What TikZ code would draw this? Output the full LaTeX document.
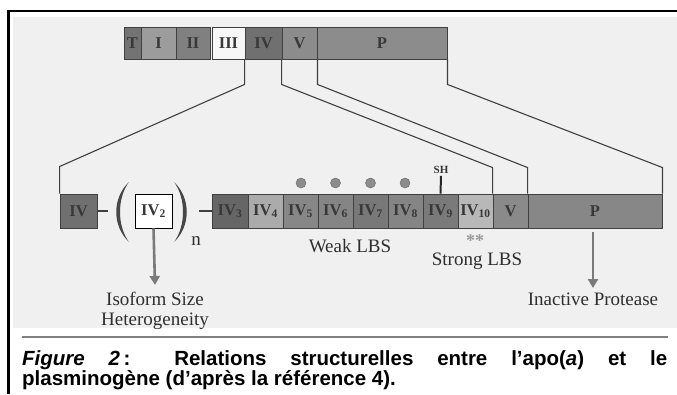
\documentclass[tikz,border=0pt]{standalone}
\usepackage{fontspec}
\setmainfont{Liberation Serif}
\newfontfamily\capfont{Liberation Sans}
\usetikzlibrary{calc,arrows.meta}

\begin{document}
\begin{tikzpicture}[x=1pt,y=-1pt,
  dom/.style={draw=black!75,line width=0.9pt,inner sep=0pt,text=black!78,
    font=\fontsize{16.5}{16.5}\selectfont\bfseries},
  lnk/.style={draw=black!75,line width=1.1pt},
  lbl/.style={inner sep=0pt,text=black!82,font=\fontsize{19}{19.5}\selectfont,align=center},
  pointer/.style={draw=black!52,line width=2.6pt,-{Triangle[width=10pt,length=9pt]}}]
\useasboundingbox (0,0) rectangle (677,394);
% page frame
\fill[black!6] (13,17) rectangle (677,328);
\draw[line width=2.5pt] (7,11) -- (677,11);
\draw[line width=2.5pt] (8.5,10) -- (8.5,394);
\draw[black!50,line width=1.5pt] (22,337) -- (668,337);

% apo(a) / plasminogen, top row
\node[dom,minimum width=17pt,minimum height=32pt,fill=black!55] (tt) at (132.5,43) {T};
\node[dom,minimum width=35pt,minimum height=32pt,fill=black!39] (t1) at (158.5,43) {I};
\node[dom,minimum width=34pt,minimum height=32pt,fill=black!50] (t2) at (193,43) {II};
\node[dom,minimum width=33pt,minimum height=32pt,fill=black!3] (t3) at (228.5,43) {III};
\node[dom,minimum width=37pt,minimum height=32pt,fill=black!56] (t4) at (263.5,43) {IV};
\node[dom,minimum width=35pt,minimum height=32pt,fill=black!45] (t5) at (299.5,43) {V};
\node[dom,minimum width=130pt,minimum height=32pt,fill=black!45] (tp) at (382,43) {P};

% bottom row
\node[dom,minimum width=37pt,minimum height=34pt,fill=black!56] (b4) at (78.5,211) {IV};
\node[dom,minimum width=37pt,minimum height=34pt,fill=white,draw=black] (k2) at (153.5,211) {IV\textsubscript{2}};
\node[dom,minimum width=36pt,minimum height=34pt,fill=black!60] (k3) at (230,211) {IV\textsubscript{3}};
\node[dom,minimum width=35pt,minimum height=34pt,fill=black!33] (k4) at (265.5,211) {IV\textsubscript{4}};
\node[dom,minimum width=35pt,minimum height=34pt,fill=black!47] (k5) at (300.5,211) {IV\textsubscript{5}};
\node[dom,minimum width=35pt,minimum height=34pt,fill=black!48] (k6) at (335.5,211) {IV\textsubscript{6}};
\node[dom,minimum width=35pt,minimum height=34pt,fill=black!53] (k7) at (370.5,211) {IV\textsubscript{7}};
\node[dom,minimum width=35pt,minimum height=34pt,fill=black!48] (k8) at (405.5,211) {IV\textsubscript{8}};
\node[dom,minimum width=35pt,minimum height=34pt,fill=black!52] (k9) at (440.5,211) {IV\textsubscript{9}};
\node[dom,minimum width=35pt,minimum height=34pt,fill=black!28] (k10) at (475.5,211) {IV\textsubscript{10}};
\node[dom,minimum width=35pt,minimum height=34pt,fill=black!46] (v2) at (510.5,211) {V};
\node[dom,minimum width=134pt,minimum height=34pt,fill=black!47] (p2) at (595,211) {P};

% repeat brackets
\coordinate (lp) at (108,211);
\coordinate (rp) at (199,211);
\draw[lnk] (b4.east) -- (lp);
\draw[lnk] (rp) -- (k3.west);
\fill[black!72] (129,182) .. controls (112,198) and (112,226) .. (129,242)
  .. controls (117,226) and (117,198) .. (129,182) -- cycle;
\fill[black!72] (174,182) .. controls (191,198) and (191,226) .. (174,242)
  .. controls (186,226) and (186,198) .. (174,182) -- cycle;
\node[lbl] (n) at (196,241) {n};

% zoom lines
\draw[lnk] (t4.south west) -- ++(0,25) -- ($(b4.north west)+(0,-27)$) -- (b4.north west);
\draw[lnk] (t5.south west) -- ++(0,25) -- ($(v2.north west)+(0,-26)$) -- (v2.north west);
\draw[lnk] (t5.south east) -- ++(0,25) -- ($(p2.north west)+(0,-26)$) -- (p2.north west);
\draw[lnk] (tp.south east) -- ++(0,25) -- ($(p2.north east)+(0,-26)$) -- (p2.north east);

% binding sites
\node[circle,draw=black!60,fill=black!45,minimum size=10pt,inner sep=0pt] (c5) at (301,183) {};
\node[circle,draw=black!60,fill=black!45,minimum size=10pt,inner sep=0pt] (c6) at (335.5,183) {};
\node[circle,draw=black!60,fill=black!45,minimum size=10pt,inner sep=0pt] (c7) at (370.5,183) {};
\node[circle,draw=black!60,fill=black!45,minimum size=10pt,inner sep=0pt] (c8) at (405,183) {};
\node[inner sep=0pt,text=black!80,font=\fontsize{11}{11}\selectfont\bfseries] (sh) at (441,170) {SH};
\draw[line width=2pt,black!85] ($(sh.south)+(0,2)$) -- (k9.north);
\node[anchor=north,inner sep=0pt,text=black!40,font=\fontsize{18}{18}\selectfont\bfseries] (st) at (475,234) {**};

% labels
\node[lbl,anchor=base] (weak) at (350,252) {Weak LBS};
\node[lbl,anchor=base] (strong) at (477,265) {Strong LBS};
\node[lbl,anchor=north] (iso) at (155,292) {Isoform Size\\Heterogeneity};
\node[lbl,anchor=north] (prot) at (593,293) {Inactive Protease};
\draw[pointer] (k2.south) -- ($(iso.north)+(0,-7)$);
\draw[pointer] ($(p2.south)+(-2,4)$) -- ($(prot.north)+(0,-5)$);

% caption
\node[anchor=base west,inner sep=0pt,font=\capfont\fontsize{20.5}{20}\selectfont\bfseries] (cap1) at (22,365)
  {\makebox[645pt][s]{\textit{Figure 2}\,: Relations structurelles entre l’apo(\textit{a}) et le}};
\node[anchor=base west,inner sep=0pt,font=\capfont\fontsize{20.5}{20}\selectfont\bfseries] (cap2) at (22,385)
  {plasminogène (d’après la référence 4).};
\end{tikzpicture}
\end{document}
